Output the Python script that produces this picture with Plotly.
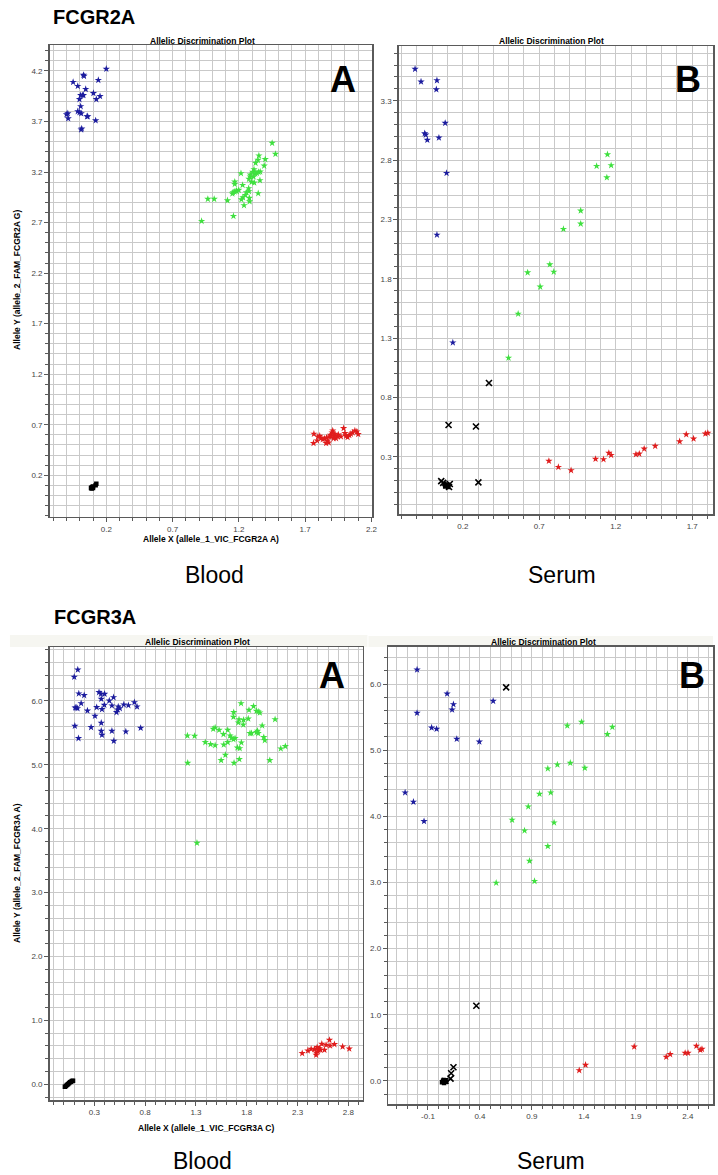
import plotly.graph_objects as go

W, H = 718, 1175

# ---------------- FCGR2A / Blood (panel A) ----------------
p1_blue_x = [0.20, -0.05, 0.14, -0.015, 0.028, 0.032, 0.045, 0.103, 0.020, 0.007, 0.028, 0.153, 0.125,
             -0.002, 0.007, -0.015, -0.002, 0.011, -0.090, -0.100, -0.087, 0.060, 0.055, 0.120, 0.015, 0.010]
p1_blue_y = [4.22, 4.09, 4.11, 4.05, 4.16, 4.15, 4.02, 3.98, 3.96, 3.96, 3.96, 3.95, 3.92,
             3.92, 3.85, 3.80, 3.79, 3.78, 3.78, 3.77, 3.73, 3.75, 3.75, 3.71, 3.63, 3.62]
p1_green_x = [1.451, 1.476, 1.351, 1.399, 1.344, 1.326, 1.391, 1.314, 1.361, 1.304, 1.349, 1.336, 1.216,
              1.324, 1.286, 1.286, 1.311, 1.276, 1.359, 1.169, 1.296, 1.316, 1.169, 1.228, 1.274, 1.199,
              1.181, 1.169, 1.156, 1.151, 1.276, 1.256, 1.346, 1.249, 1.231, 1.219, 1.279, 1.281, 1.114,
              0.966, 1.014, 1.239, 1.159, 0.919, 1.184]
p1_green_y = [3.487, 3.378, 3.362, 3.326, 3.319, 3.289, 3.262, 3.226, 3.203, 3.200, 3.200, 3.190, 3.187,
              3.184, 3.174, 3.154, 3.154, 3.131, 3.118, 3.104, 3.101, 3.095, 3.081, 3.071, 3.039, 3.022,
              3.015, 3.005, 2.999, 2.986, 3.009, 2.999, 2.989, 2.972, 2.949, 2.929, 2.943, 2.909, 2.919,
              2.933, 2.933, 2.870, 2.764, 2.715, 3.009]
p1_red_x = [1.766, 1.796, 1.810, 1.763, 1.790, 1.833, 1.846, 1.861, 1.870, 1.883, 1.891, 1.903, 1.908,
            1.895, 1.920, 1.933, 1.878, 1.858, 1.950, 1.970, 1.990, 2.000, 2.008, 2.020, 2.033, 2.045,
            2.058, 2.075, 2.100, 2.090, 1.945, 1.915, 1.925, 1.820]
p1_red_y = [0.609, 0.582, 0.589, 0.517, 0.543, 0.556, 0.562, 0.572, 0.543, 0.582, 0.599, 0.622, 0.642,
            0.582, 0.589, 0.566, 0.523, 0.517, 0.602, 0.582, 0.665, 0.616, 0.589, 0.576, 0.596, 0.609,
            0.622, 0.642, 0.606, 0.632, 0.582, 0.566, 0.609, 0.566]
p1_ntc_x = [0.090, 0.090, 0.095, 0.100, 0.125, 0.120, 0.085, 0.100]
p1_ntc_y = [0.080, 0.070, 0.085, 0.090, 0.115, 0.100, 0.075, 0.075]
p1_und_x = []
p1_und_y = []

# ---------------- FCGR2A / Serum (panel B) ----------------
p2_blue_x = [-0.112, -0.073, 0.031, 0.027, 0.085, -0.049, -0.042, -0.032, 0.044, 0.094, 0.031, 0.135]
p2_blue_y = [3.567, 3.460, 3.471, 3.395, 3.112, 3.024, 3.013, 2.969, 2.988, 2.690, 2.170, 1.262]
p2_green_x = [1.146, 1.075, 1.170, 1.142, 0.971, 0.971, 0.858, 0.769, 0.624, 0.795, 0.706, 0.562, 0.499]
p2_green_y = [2.847, 2.749, 2.755, 2.653, 2.373, 2.263, 2.218, 1.920, 1.852, 1.858, 1.732, 1.504, 1.133]
p2_red_x = [0.763, 0.825, 0.908, 1.068, 1.120, 1.155, 1.170, 1.332, 1.354, 1.386, 1.458, 1.618, 1.661,
            1.709, 1.786, 1.802]
p2_red_y = [0.264, 0.213, 0.185, 0.281, 0.278, 0.331, 0.314, 0.320, 0.325, 0.367, 0.390, 0.429, 0.488,
            0.452, 0.494, 0.500]
p2_ntc_x = [0.080, 0.090, 0.085, 0.095, 0.100, 0.105]
p2_ntc_y = [0.070, 0.060, 0.050, 0.055, 0.065, 0.045]
p2_und_x = [0.371, 0.107, 0.286, 0.059, 0.302, 0.115, 0.110, 0.072]
p2_und_y = [0.921, 0.567, 0.555, 0.095, 0.084, 0.070, 0.045, 0.080]

# ---------------- FCGR3A / Blood (panel A) ----------------
p3_blue_x = [0.137, 0.102, 0.147, 0.200, 0.346, 0.365, 0.401, 0.489, 0.447, 0.368, 0.170, 0.111, 0.134,
             0.232, 0.323, 0.375, 0.398, 0.473, 0.535, 0.551, 0.590, 0.635, 0.694, 0.720, 0.528, 0.518,
             0.306, 0.368, 0.108, 0.268, 0.756, 0.368, 0.375, 0.473, 0.610, 0.144, 0.492, 0.121]
p3_blue_y = [6.490, 6.376, 6.115, 6.089, 6.136, 6.110, 6.110, 6.057, 6.005, 6.031, 5.963, 5.895, 5.885,
             5.848, 5.901, 5.870, 5.937, 5.927, 5.911, 5.885, 5.943, 5.932, 5.979, 5.911, 5.864, 5.823,
             5.765, 5.656, 5.609, 5.588, 5.577, 5.531, 5.468, 5.531, 5.520, 5.416, 5.374, 5.895]
p3_green_x = [1.744, 1.672, 1.669, 1.822, 1.867, 1.896, 1.913, 1.929, 1.724, 1.769, 1.815, 1.766, 1.717,
              2.079, 1.952, 1.216, 1.287, 1.470, 1.489, 1.528, 1.613, 1.571, 1.636, 1.652, 1.669, 1.685,
              1.613, 1.574, 1.392, 1.444, 1.489, 1.747, 1.708, 1.731, 1.832, 1.847, 1.896, 1.906, 1.913,
              1.968, 1.978, 1.590, 1.548, 1.675, 1.727, 2.027, 2.135, 2.180, 1.219, 1.310]
p3_green_y = [5.963, 5.823, 5.750, 5.859, 5.917, 5.844, 5.833, 5.817, 5.713, 5.703, 5.723, 5.629, 5.661,
              5.713, 5.614, 5.457, 5.452, 5.562, 5.583, 5.546, 5.546, 5.479, 5.457, 5.421, 5.400, 5.416,
              5.353, 5.316, 5.353, 5.322, 5.306, 5.348, 5.269, 5.259, 5.494, 5.494, 5.510, 5.531, 5.494,
              5.432, 5.385, 5.155, 5.072, 5.030, 5.088, 5.072, 5.254, 5.291, 5.030, 3.778]
p3_red_x = [2.346, 2.402, 2.434, 2.493, 2.506, 2.483, 2.516, 2.526, 2.539, 2.483, 2.565, 2.581, 2.614,
            2.620, 2.663, 2.744, 2.809, 2.500, 2.467]
p3_red_y = [0.485, 0.526, 0.552, 0.579, 0.537, 0.495, 0.563, 0.537, 0.631, 0.459, 0.537, 0.615, 0.693,
            0.604, 0.626, 0.589, 0.557, 0.511, 0.548]
p3_ntc_x = [0.010, 0.020, 0.030, 0.040, 0.050, 0.060, 0.070, 0.080, 0.090]
p3_ntc_y = [-0.040, -0.025, -0.010, 0.000, 0.015, 0.030, 0.040, 0.050, 0.055]
p3_und_x = []
p3_und_y = []

# ---------------- FCGR3A / Serum (panel B) ----------------
p4_blue_x = [-0.205, 0.084, 0.145, 0.132, 0.527, -0.205, -0.065, -0.017, 0.177, 0.394, -0.320, -0.240, -0.138]
p4_blue_y = [6.216, 5.853, 5.693, 5.612, 5.743, 5.562, 5.340, 5.320, 5.169, 5.128, 4.358, 4.218, 3.926]
p4_green_x = [1.240, 1.378, 1.626, 1.674, 1.053, 1.145, 1.269, 1.409, 0.973, 1.081, 0.865, 0.709, 1.113,
              0.829, 1.053, 0.877, 0.556, 0.925]
p4_green_y = [5.370, 5.426, 5.240, 5.350, 4.721, 4.781, 4.807, 4.731, 4.338, 4.358, 4.147, 3.946, 3.905,
              3.784, 3.548, 3.326, 2.994, 3.020]
p4_red_x = [1.355, 1.416, 1.884, 2.192, 2.230, 2.374, 2.402, 2.482, 2.520, 2.536]
p4_red_y = [0.161, 0.242, 0.518, 0.363, 0.403, 0.423, 0.423, 0.529, 0.468, 0.483]
p4_ntc_x = [0.035, 0.045, 0.055, 0.065, 0.075, 0.050]
p4_ntc_y = [-0.020, 0.000, -0.030, 0.010, -0.010, 0.015]
p4_und_x = [0.652, 0.365, 0.145, 0.123, 0.117, 0.066]
p4_und_y = [5.950, 1.137, 0.207, 0.116, 0.035, 0.000]

# ---------------- tick labels ----------------
p1_xticks = [0.2, 0.7, 1.2, 1.7, 2.2]
p1_xtext = ["0.2", "0.7", "1.2", "1.7", "2.2"]
p1_yticks = [0.2, 0.7, 1.2, 1.7, 2.2, 2.7, 3.2, 3.7, 4.2]
p1_ytext = ["0.2", "0.7", "1.2", "1.7", "2.2", "2.7", "3.2", "3.7", "4.2"]
p2_xticks = [0.2, 0.7, 1.2, 1.7]
p2_xtext = ["0.2", "0.7", "1.2", "1.7"]
p2_yticks = [0.3, 0.8, 1.3, 1.8, 2.3, 2.8, 3.3]
p2_ytext = ["0.3", "0.8", "1.3", "1.8", "2.3", "2.8", "3.3"]
p3_xticks = [0.3, 0.8, 1.3, 1.8, 2.3, 2.8]
p3_xtext = ["0.3", "0.8", "1.3", "1.8", "2.3", "2.8"]
p3_yticks = [0, 1, 2, 3, 4, 5, 6]
p3_ytext = ["0.0", "1.0", "2.0", "3.0", "4.0", "5.0", "6.0"]
p4_xticks = [-0.1, 0.4, 0.9, 1.4, 1.9, 2.4]
p4_xtext = ["-0.1", "0.4", "0.9", "1.4", "1.9", "2.4"]
p4_yticks = [0, 1, 2, 3, 4, 5, 6]
p4_ytext = ["0.0", "1.0", "2.0", "3.0", "4.0", "5.0", "6.0"]

BLUE = "#1c1c9e"
GREEN = "#3fe03f"
RED = "#e01c1c"
GRID = "#c9c9c9"
AXIS = "#5a5a5a"
FONT = "Arial, Liberation Sans, sans-serif"


def fx(px):
    return px / W


def fy(py):
    return 1 - py / H


panels = [
    dict(px=(50, 375), py=(45, 516.5), xr=(-0.227, 2.207), yr=(-0.208, 4.457),
         xt=(p1_xticks, p1_xtext), yt=(p1_yticks, p1_ytext), ydt=0.1,
         blue=(p1_blue_x, p1_blue_y), green=(p1_green_x, p1_green_y), red=(p1_red_x, p1_red_y),
         ntc=(p1_ntc_x, p1_ntc_y), und=(p1_und_x, p1_und_y)),
    dict(px=(401.5, 718), py=(46, 514.3), xr=(-0.219, 1.836), yr=(-0.185, 3.761),
         xt=(p2_xticks, p2_xtext), yt=(p2_yticks, p2_ytext), ydt=0.1,
         blue=(p2_blue_x, p2_blue_y), green=(p2_green_x, p2_green_y), red=(p2_red_x, p2_red_y),
         ntc=(p2_ntc_x, p2_ntc_y), und=(p2_und_x, p2_und_y)),
    dict(px=(50, 365.5), py=(647, 1100), xr=(-0.14, 2.944), yr=(-0.246, 6.845),
         xt=(p3_xticks, p3_xtext), yt=(p3_yticks, p3_ytext), ydt=0.2,
         blue=(p3_blue_x, p3_blue_y), green=(p3_green_x, p3_green_y), red=(p3_red_x, p3_red_y),
         ntc=(p3_ntc_x, p3_ntc_y), und=(p3_und_x, p3_und_y)),
    dict(px=(391, 718), py=(646.7, 1104), xr=(-0.482, 2.642), yr=(-0.348, 6.564),
         xt=(p4_xticks, p4_xtext), yt=(p4_yticks, p4_ytext), ydt=0.2,
         blue=(p4_blue_x, p4_blue_y), green=(p4_green_x, p4_green_y), red=(p4_red_x, p4_red_y),
         ntc=(p4_ntc_x, p4_ntc_y), und=(p4_und_x, p4_und_y)),
]

fig = go.Figure()
layout = {}
for i, p in enumerate(panels, start=1):
    sx = "" if i == 1 else str(i)
    xa, ya = "x" + sx, "y" + sx
    common = dict(showline=True, linecolor=AXIS, linewidth=1.5, mirror=True,
                  showgrid=True, gridcolor=GRID, gridwidth=1, zeroline=False,
                  ticks="outside", ticklen=4, tickcolor=AXIS,
                  tickfont=dict(family=FONT, size=8, color="#444"), fixedrange=True)
    layout["xaxis" + sx] = dict(
        domain=[fx(p["px"][0]), fx(p["px"][1])], range=list(p["xr"]), anchor=ya,
        tickmode="array", tickvals=p["xt"][0], ticktext=p["xt"][1],
        minor=dict(dtick=0.1, tick0=0, ticks="outside", ticklen=3, tickcolor=AXIS,
                   showgrid=True, gridcolor=GRID, gridwidth=1),
        **common)
    layout["yaxis" + sx] = dict(
        domain=[fy(p["py"][1]), fy(p["py"][0])], range=list(p["yr"]), anchor=xa,
        tickmode="array", tickvals=p["yt"][0], ticktext=p["yt"][1],
        minor=dict(dtick=p["ydt"], tick0=0, ticks="outside", ticklen=3, tickcolor=AXIS,
                   showgrid=True, gridcolor=GRID, gridwidth=1),
        **common)
    for key, col in (("blue", BLUE), ("green", GREEN), ("red", RED)):
        fig.add_trace(go.Scatter(x=p[key][0], y=p[key][1], mode="markers", xaxis=xa, yaxis=ya,
                                 marker=dict(symbol="star", size=5.5, color=col, line=dict(width=0)),
                                 showlegend=False, hoverinfo="skip"))
    fig.add_trace(go.Scatter(x=p["ntc"][0], y=p["ntc"][1], mode="markers", xaxis=xa, yaxis=ya,
                             marker=dict(symbol="square", size=4.5, color="black"),
                             showlegend=False, hoverinfo="skip"))
    if p["und"][0]:
        fig.add_trace(go.Scatter(x=p["und"][0], y=p["und"][1], mode="markers", xaxis=xa, yaxis=ya,
                                 marker=dict(symbol="x-thin-open", size=6, color="black",
                                             line=dict(width=1.6, color="black")),
                                 showlegend=False, hoverinfo="skip"))


def ann(text, px, py, size, bold=False, angle=0, color="black"):
    return dict(text=("<b>%s</b>" % text) if bold else text, x=fx(px), y=fy(py),
                xref="paper", yref="paper", xanchor="center", yanchor="middle",
                showarrow=False, textangle=angle,
                font=dict(family=FONT, size=size, color=color))


annotations = [
    ann("FCGR2A", 94.5, 17, 20, bold=True),
    ann("FCGR3A", 95.5, 617, 20, bold=True),
    ann("Allelic Discrimination Plot", 204, 41, 8.5, bold=True),
    ann("Allelic Discrimination Plot", 555.5, 41, 8.5, bold=True),
    ann("Allelic Discrimination Plot", 199, 642, 8.5, bold=True),
    ann("Allelic Discrimination Plot", 547.5, 642, 8.5, bold=True),
    ann("A", 345.8, 80, 36, bold=True),
    ann("B", 693.3, 80, 36, bold=True),
    ann("A", 334.7, 675, 36, bold=True),
    ann("B", 696.7, 675, 36, bold=True),
    ann("Allele Y (allele_2_FAM_FCGR2A G)", 17, 280, 8.5, bold=True, angle=-90),
    ann("Allele X (allele_1_VIC_FCGR2A A)", 212, 539, 8.5, bold=True),
    ann("Allele Y (allele_2_FAM_FCGR3A A)", 17, 873, 8.5, bold=True, angle=-90),
    ann("Allele X (allele_1_VIC_FCGR3A C)", 207, 1128, 8.5, bold=True),
    ann("Blood", 216.5, 575, 23),
    ann("Serum", 566, 575, 23),
    ann("Blood", 204, 1161, 23),
    ann("Serum", 555, 1161, 23),
]

shapes = [
    dict(type="rect", xref="paper", yref="paper", x0=fx(10), x1=fx(370), y0=fy(647), y1=fy(635),
         fillcolor="#f6f6f1", line=dict(width=0), layer="below"),
    dict(type="rect", xref="paper", yref="paper", x0=fx(371), x1=fx(718), y0=fy(647), y1=fy(636),
         fillcolor="#f6f6f1", line=dict(width=0), layer="below"),
]

fig.update_layout(width=W, height=H, margin=dict(l=0, r=0, t=0, b=0),
                  paper_bgcolor="white", plot_bgcolor="white",
                  annotations=annotations, shapes=shapes, **layout)

fig.write_html("out.html", config={"displayModeBar": False, "staticPlot": True},
               post_script="document.body.style.margin='0px';")
